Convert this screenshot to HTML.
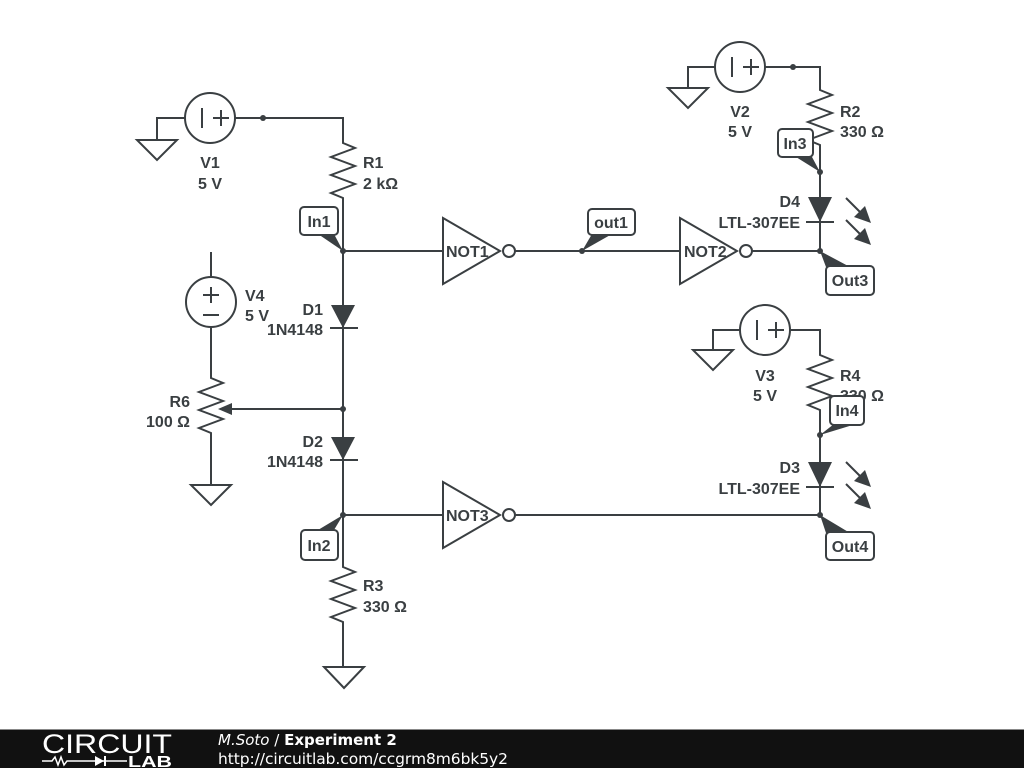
<!DOCTYPE html>
<html><head><meta charset="utf-8"><style>
body{margin:0;width:1024px;height:768px;background:#fff;overflow:hidden}
svg{display:block}
text{font-family:"Liberation Sans",sans-serif;font-weight:700;font-size:16px;fill:#3a3f42}
</style></head><body>
<svg width="1024" height="768" viewBox="0 0 1024 768">
<g stroke="#3a3f42" stroke-width="2" fill="none">
<circle cx="210" cy="118" r="25"/>
<path d="M185 118H157V140M137 140H177L157 160Z"/>
<path d="M202 108V128M213 118H229M221 110V126"/>
<path d="M235 118H343V143l12 5-24 9 24 9-24 9 24 9-24 9 12 5V251"/>
<path d="M343 251H443M443 218V284L500 251Z"/>
<circle cx="509" cy="251" r="6"/>
<path d="M515 251H680M680 218V284L737 251Z"/>
<circle cx="746" cy="251" r="6"/>
<path d="M752 251H820"/>
<path d="M343 251V515M330 328H358"/>
<path d="M343 409H225"/>
<circle cx="211" cy="302" r="25"/>
<path d="M211 277V252M211 327V378l12 5-24 9 24 9-24 9 24 9-24 9 12 5V485M191 485H231L211 505Z"/>
<path d="M203 295H219M211 287V303M203 315H219"/>
<path d="M330 460H358"/>
<path d="M343 515H443M443 482V548L500 515Z"/>
<circle cx="509" cy="515" r="6"/>
<path d="M515 515H820"/>
<path d="M343 515V567l12 5-24 9 24 9-24 9 24 9-24 9 12 5V667M324 667H364L344 688Z"/>
<circle cx="740" cy="67" r="25"/>
<path d="M715 67H688V88M668 88H708L688 108Z"/>
<path d="M732 57V77M743 67H759M751 59V75"/>
<path d="M765 67H820V90l12 5-24 9 24 9-24 9 24 9-24 9 12 5V251M806 222H834"/>
<circle cx="765" cy="330" r="25"/>
<path d="M740 330H713V350M693 350H733L713 370Z"/>
<path d="M757 320V340M768 330H784M776 322V338"/>
<path d="M790 330H820V355l12 5-24 9 24 9-24 9 24 9-24 9 12 5V515M806 487H834"/>
<path d="M846 198L866 218M846 220L866 240M846 462L866 482M846 484L866 504"/>
</g>
<g fill="#3a3f42">
<circle cx="263" cy="118" r="3"/><circle cx="343" cy="251" r="3"/><circle cx="582" cy="251" r="3"/>
<circle cx="820" cy="251" r="3"/><circle cx="343" cy="409" r="3"/><circle cx="343" cy="515" r="3"/>
<circle cx="820" cy="515" r="3"/><circle cx="793" cy="67" r="3"/><circle cx="820" cy="172" r="3"/>
<circle cx="820" cy="435" r="3"/>
<path d="M331 305H355L343 328Z"/><path d="M331 437H355L343 460Z"/>
<path d="M808 197H832L820 222Z"/><path d="M808 462H832L820 487Z"/>
<path d="M218 409L232 403V415Z"/>
<path d="M871 223L854 217L865 206Z"/><path d="M871 245L854 239L865 228Z"/>
<path d="M871 487L854 481L865 470Z"/><path d="M871 509L854 503L865 492Z"/>
<path d="M318 234L343 251L334 234Z"/>
<path d="M592 234L582 251L612 234Z"/>
<path d="M826 267L820 251L850 267Z"/>
<path d="M318 530L343 515L334 530Z"/>
<path d="M796 157L820 172L812 157Z"/>
<path d="M834 424L820 435L856 424Z"/>
<path d="M826 533L820 515L850 533Z"/>
</g>
<g fill="#fff" stroke="#3a3f42" stroke-width="2">
<rect x="300" y="207" width="38" height="28" rx="4"/>
<rect x="588" y="209" width="47" height="26" rx="4"/>
<rect x="826" y="266" width="48" height="29" rx="4"/>
<rect x="301" y="530" width="37" height="30" rx="4"/>
<rect x="778" y="129" width="35" height="28" rx="4"/>
<rect x="826" y="532" width="48" height="28" rx="4"/>
</g>
<text x="319" y="227" text-anchor="middle">In1</text>
<text x="611" y="228" text-anchor="middle">out1</text>
<text x="850" y="286" text-anchor="middle">Out3</text>
<text x="319" y="551" text-anchor="middle">In2</text>
<text x="795" y="149" text-anchor="middle">In3</text>
<text x="850" y="552" text-anchor="middle">Out4</text>
<text x="210" y="168" text-anchor="middle">V1</text><text x="210" y="189" text-anchor="middle">5 V</text>
<text x="363" y="168">R1</text><text x="363" y="189">2 kΩ</text>
<text x="446" y="257">NOT1</text><text x="684" y="257">NOT2</text><text x="446" y="521">NOT3</text>
<text x="245" y="301">V4</text><text x="245" y="321">5 V</text>
<text x="323" y="315" text-anchor="end">D1</text><text x="323" y="335" text-anchor="end">1N4148</text>
<text x="190" y="407" text-anchor="end">R6</text><text x="190" y="427" text-anchor="end">100 Ω</text>
<text x="323" y="447" text-anchor="end">D2</text><text x="323" y="467" text-anchor="end">1N4148</text>
<text x="363" y="591">R3</text><text x="363" y="612">330 Ω</text>
<text x="740" y="117" text-anchor="middle">V2</text><text x="740" y="137" text-anchor="middle">5 V</text>
<text x="840" y="117">R2</text><text x="840" y="137">330 Ω</text>
<text x="800" y="207" text-anchor="end">D4</text><text x="800" y="228" text-anchor="end">LTL-307EE</text>
<text x="765" y="381" text-anchor="middle">V3</text><text x="765" y="401" text-anchor="middle">5 V</text>
<text x="840" y="381">R4</text><text x="840" y="401">330 Ω</text>
<rect x="830" y="396" width="34" height="29" rx="4" fill="#fff" stroke="#3a3f42" stroke-width="2"/>
<text x="847" y="416" text-anchor="middle">In4</text>
<text x="800" y="473" text-anchor="end">D3</text><text x="800" y="494" text-anchor="end">LTL-307EE</text>
<rect x="0" y="729" width="1024" height="39" fill="#111"/>
<rect x="0" y="729" width="1024" height="1" fill="#888"/>
<text x="42" y="753" textLength="130" lengthAdjust="spacingAndGlyphs" style="font-weight:normal;font-size:27px;fill:#fff">CIRCUIT</text>
<path d="M42 761H52l3-4 3 8 3-8 3 8 3-4H88" stroke="#fff" stroke-width="1.5" fill="none"/>
<path d="M88 761H127" stroke="#fff" stroke-width="1.5"/>
<path d="M95 756V766L104 761Z" fill="#fff"/><path d="M105 756V766" stroke="#fff" stroke-width="2"/>
<text x="128" y="767" textLength="44" lengthAdjust="spacingAndGlyphs" style="font-size:16px;fill:#fff">LAB</text>
<text x="218" y="745" style="font-weight:normal;font-style:italic;font-family:'DejaVu Sans',sans-serif;font-size:15px;fill:#fff">M.Soto <tspan font-style="normal">/</tspan> <tspan font-weight="bold" font-style="normal">Experiment 2</tspan></text>
<text x="218" y="764" textLength="290" style="font-weight:normal;font-family:'DejaVu Sans',sans-serif;font-size:15.5px;fill:#fff">http://circuitlab.com/ccgrm8m6bk5y2</text>
</svg>
</body></html>
